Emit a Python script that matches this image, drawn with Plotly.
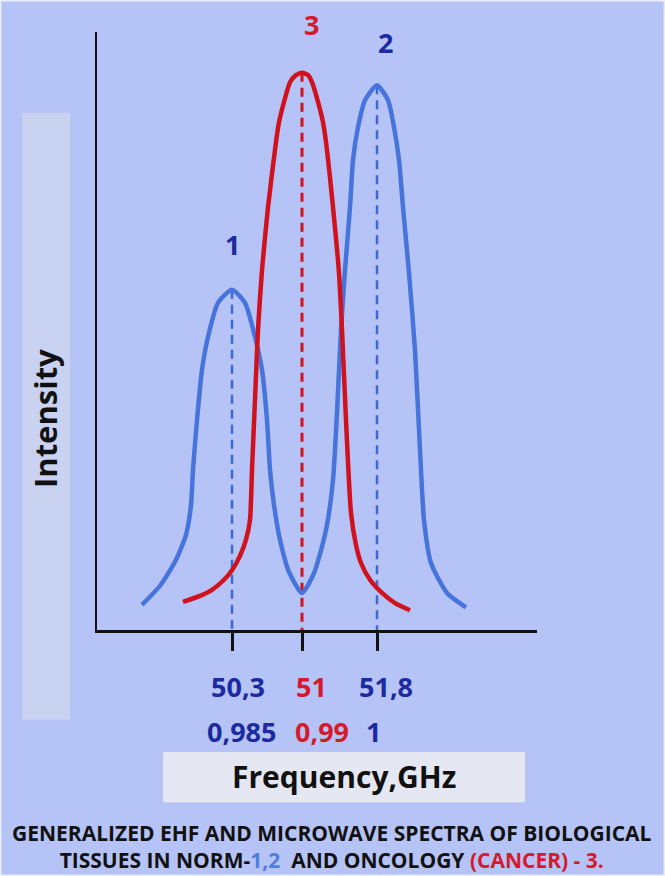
import plotly.graph_objects as go

# ---- data (frequency in GHz, intensity in arbitrary units 0-100) ----
blue_x = [49.40, 49.58, 49.73, 49.84, 49.89, 49.91, 49.95, 50.00, 50.06, 50.16, 50.30,
          50.43, 50.53, 50.60, 50.65, 50.68, 50.72, 50.78, 50.87, 51.00,
          51.12, 51.24, 51.31, 51.35, 51.39, 51.43, 51.48, 51.51, 51.56, 51.63, 51.75,
          51.86, 51.92, 51.97, 52.01, 52.07, 52.13, 52.18, 52.22, 52.29, 52.45, 52.64]
blue_y = [4.2, 7.4, 11.4, 15.9, 20.9, 26.8, 35.1, 43.5, 49.0, 54.7, 56.9,
          54.7, 49.0, 43.5, 35.1, 26.8, 20.9, 15.1, 9.7, 6.2,
          9.5, 16.7, 25.1, 36.3, 50.2, 60.2, 70.7, 78.6, 84.1, 88.6, 91.1,
          88.6, 84.1, 78.6, 70.7, 59.7, 46.8, 30.1, 18.4, 11.2, 6.2, 3.8]

red_x = [49.81, 49.98, 50.10, 50.22, 50.30, 50.38, 50.44, 50.48, 50.50, 50.53,
         50.56, 50.60, 50.66, 50.74, 50.77, 50.82, 50.88, 50.94, 51.00,
         51.06, 51.10, 51.16, 51.21, 51.24, 51.31, 51.37, 51.40, 51.44,
         51.49, 51.54, 51.59, 51.68, 51.80, 51.93, 52.08]
red_y = [4.7, 5.7, 6.7, 8.4, 10.0, 12.4, 15.1, 18.4, 26.8, 38.5,
         50.2, 60.2, 70.7, 81.6, 84.9, 88.3, 91.6, 92.8, 93.2,
         92.8, 91.6, 88.3, 84.9, 81.6, 70.7, 59.7, 50.2, 35.1,
         19.6, 14.2, 11.2, 8.4, 6.2, 4.5, 3.3]

peak_freq = [50.3, 51.0, 51.75]
peak_int = [56.9, 93.2, 91.1]
peak_names = ["1", "3", "2"]
tick_labels = ["50,3", "51", "51,8"]
ratio_labels = ["0,985", "0,99", "1"]

BLUE = "#4673DC"
RED = "#D0121F"
DARKBLUE = "#1B2AA0"
TXTRED = "#D41A2C"
FONT = "Open Sans"

fig = go.Figure()

# dashed verticals from each peak to the axis
dash_colors = ["#3F68D0", RED, "#3F68D0"]
dash_widths = [2.5, 3, 2.5]
for fx, fy, c, w in zip(peak_freq, peak_int, dash_colors, dash_widths):
    fig.add_trace(go.Scatter(x=[fx, fx], y=[fy, 0], mode="lines",
                             line=dict(color=c, width=w, dash="9px,6px"),
                             hoverinfo="skip", showlegend=False))

fig.add_trace(go.Scatter(x=blue_x, y=blue_y, mode="lines",
                         line=dict(color=BLUE, width=4.5, shape="spline", smoothing=0.6),
                         showlegend=False))
fig.add_trace(go.Scatter(x=red_x, y=red_y, mode="lines",
                         line=dict(color=RED, width=4.5, shape="spline", smoothing=0.6),
                         showlegend=False))

tick_colors = [DARKBLUE, TXTRED, DARKBLUE]

annotations = []
# peak numbers
label_x = [50.30, 51.09, 51.83]
label_y = [0.644, 1.012, 0.983]
label_cols = [DARKBLUE, TXTRED, DARKBLUE]
for lx, ly, name, c in zip(label_x, label_y, peak_names, label_cols):
    annotations.append(dict(x=lx, y=ly, xref="x", yref="paper", text=f"<b>{name}</b>",
                            xanchor="center", yanchor="middle",
                            showarrow=False, font=dict(family=FONT, size=27, color=c)))
# frequency values (first row) and ratios (second row)
tick_label_x = [50.36, 51.09, 51.84]
for tx, t, c in zip(tick_label_x, tick_labels, tick_colors):
    annotations.append(dict(x=tx, y=-0.0953, xref="x", yref="paper", text=f"<b>{t}</b>",
                            xanchor="center", yanchor="middle",
                            showarrow=False, font=dict(family=FONT, size=27, color=c)))
ratio_x = [50.39, 51.20, 51.71]
for rx, t, c in zip(ratio_x, ratio_labels, tick_colors):
    annotations.append(dict(x=rx, y=-0.169, xref="x", yref="paper", text=f"<b>{t}</b>",
                            xanchor="center", yanchor="middle",
                            showarrow=False, font=dict(family=FONT, size=27, color=c)))
# axis titles
annotations.append(dict(x=-0.118, y=0.353, xref="paper", yref="paper", text="<b>Intensity</b>",
                        xanchor="center", yanchor="middle", textangle=-90, showarrow=False,
                        font=dict(family=FONT, size=31, color="#111111")))
annotations.append(dict(x=0.561, y=-0.245, xref="paper", yref="paper", text="<b>Frequency,GHz</b>",
                        xanchor="center", yanchor="middle",
                        showarrow=False, font=dict(family=FONT, size=30, color="#111111")))
# caption
annotations.append(dict(
    x=0.534, y=-0.362, xref="paper", yref="paper", showarrow=False,
    xanchor="center", yanchor="middle", align="center",
    text=("<b>GENERALIZED EHF AND MICROWAVE SPECTRA OF BIOLOGICAL<br>"
          "TISSUES IN NORM-<span style='color:#4E7EE0'>1,2</span>  AND ONCOLOGY "
          "<span style='color:#D41A2C'>(CANCER) - 3.</span></b>"),
    font=dict(family=FONT, size=21, color="#111111")))

shapes = [
    dict(type="rect", xref="paper", yref="paper", x0=-0.170, x1=-0.061, y0=-0.150, y1=0.865,
         fillcolor="#C9D3F1", line=dict(width=0), layer="below"),
    dict(type="rect", xref="paper", yref="paper", x0=0.150, x1=0.973, y0=-0.288, y1=-0.204,
         fillcolor="#E5E8F3", line=dict(width=0), layer="below"),
    dict(type="rect", xref="paper", yref="paper", x0=-0.2205, x1=1.291, y0=-0.4114, y1=1.0535,
         fillcolor="rgba(0,0,0,0)", line=dict(color="#E9EDFB", width=3), layer="below"),
]

fig.update_layout(
    width=665, height=876,
    margin=dict(l=97, r=128, t=32, b=246),
    paper_bgcolor="#B5C3F6", plot_bgcolor="#B5C3F6",
    font=dict(family=FONT),
    showlegend=False,
    annotations=annotations,
    shapes=shapes,
    xaxis=dict(range=[48.95, 53.35], showgrid=False, zeroline=False,
               showline=True, linecolor="#111111", linewidth=3,
               ticks="outside", ticklen=18, tickwidth=3, tickcolor="#111111",
               tickvals=peak_freq, showticklabels=False),
    yaxis=dict(range=[0, 100], showgrid=False, zeroline=False,
               showline=True, linecolor="#111111", linewidth=2,
               showticklabels=False, ticks=""),
)

fig.write_html("out.html", config={"displayModeBar": False},
               post_script="document.body.style.margin='0';document.body.style.background='#B5C3F6';")
